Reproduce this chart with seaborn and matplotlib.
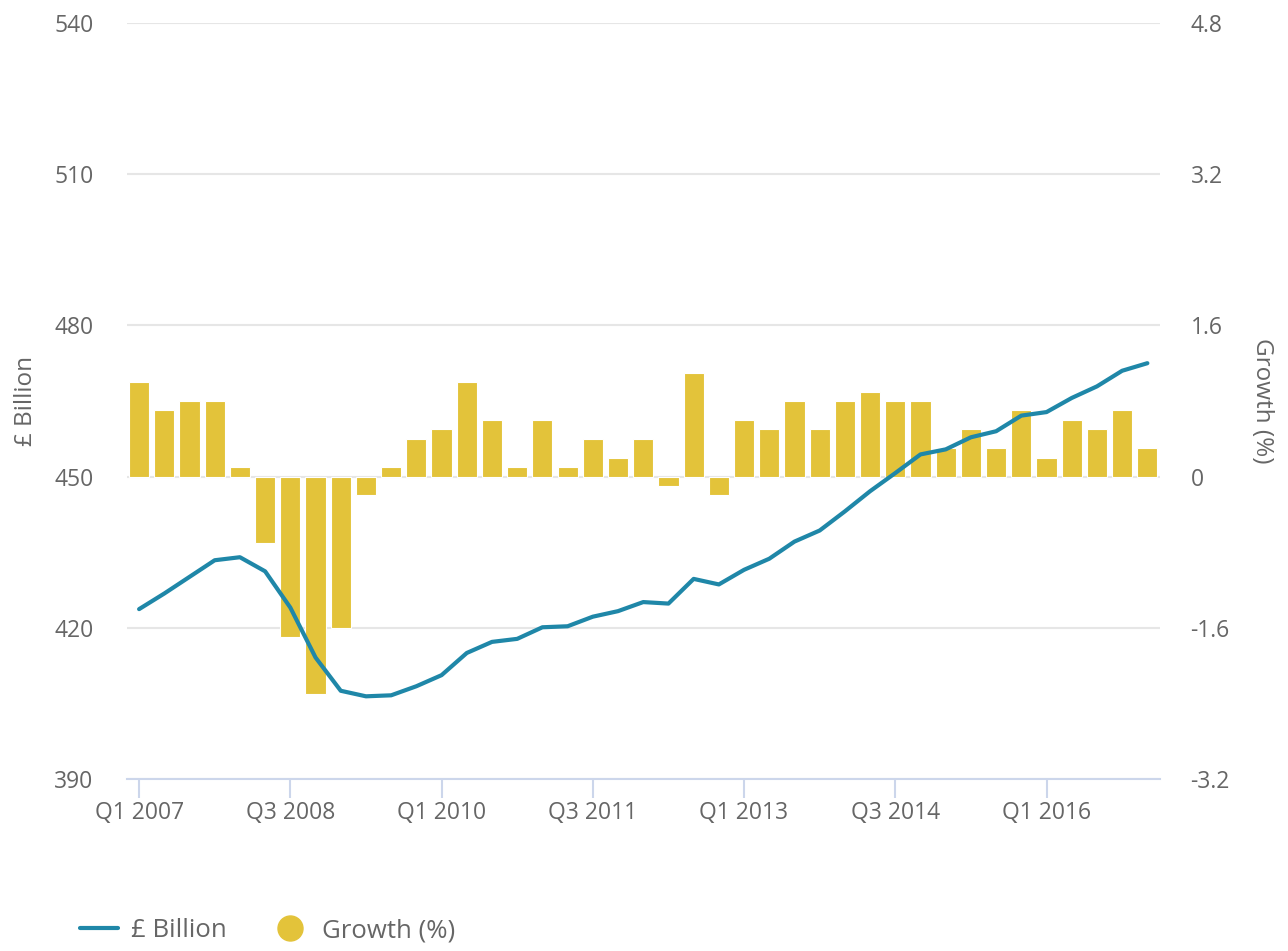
#!/usr/bin/env python3
"""Quarterly value (GBP bn, line) and growth (%, bars), Q1 2007 - Q1 2017."""

import matplotlib

matplotlib.use("Agg")
import matplotlib.pyplot as plt
import numpy as np
import pandas as pd
import seaborn as sns
from matplotlib.lines import Line2D

QUARTERS = [f"Q{q} {y}" for y in range(2007, 2018) for q in range(1, 5)][:41]

BILLION = [
    423.7, 426.8, 430.1, 433.4, 434.0, 431.2, 424.0, 414.1, 407.5, 406.4,
    406.6, 408.4, 410.6, 415.0, 417.2, 417.8, 420.1, 420.3, 422.2, 423.3,
    425.1, 424.8, 429.7, 428.6, 431.5, 433.7, 437.1, 439.3, 443.1, 447.1,
    450.7, 454.4, 455.4, 457.8, 459.0, 462.1, 462.8, 465.6, 467.9, 471.0,
    472.5,
]

GROWTH = [
    1.0, 0.7, 0.8, 0.8, 0.1, -0.7, -1.7, -2.3, -1.6, -0.2,
    0.1, 0.4, 0.5, 1.0, 0.6, 0.1, 0.6, 0.1, 0.4, 0.2,
    0.4, -0.1, 1.1, -0.2, 0.6, 0.5, 0.8, 0.5, 0.8, 0.9,
    0.8, 0.8, 0.3, 0.5, 0.3, 0.7, 0.2, 0.6, 0.5, 0.7,
    0.3,
]

LEFT_TICKS = [390, 420, 450, 480, 510, 540]
RIGHT_TICKS = [-3.2, -1.6, 0, 1.6, 3.2, 4.8]
RIGHT_LABELS = ["-3.2", "-1.6", "0", "1.6", "3.2", "4.8"]

LINE_COLOR = "#1f87a8"
BAR_COLOR = "#e3c33a"
TEXT_COLOR = "#666666"
GRID_COLOR = "#e6e6e6"
AXIS_COLOR = "#ccd6eb"


def main() -> None:
    sns.set_style("white")
    plt.rcParams["font.family"] = ["Open Sans", "DejaVu Sans"]

    df = pd.DataFrame(
        {"pos": np.arange(len(QUARTERS)), "quarter": QUARTERS,
         "billion": BILLION, "growth": GROWTH}
    )

    fig = plt.figure(figsize=(12.88, 9.51), dpi=100)
    ax = fig.add_axes([0.0986, 0.1809, 0.802, 0.7949])
    axr = ax.twinx()
    ax.set_zorder(axr.get_zorder() + 1)
    ax.patch.set_visible(False)

    sns.barplot(
        data=df, x="pos", y="growth", ax=axr, color=BAR_COLOR,
        native_scale=True, width=0.8, saturation=1,
        edgecolor="white", linewidth=0.8, errorbar=None,
    )
    sns.lineplot(
        data=df, x="pos", y="billion", ax=ax, color=LINE_COLOR,
        linewidth=3, solid_capstyle="round",
    )

    ax.set_xlim(-0.48, len(QUARTERS) - 0.5)
    ax.set_ylim(390, 540)
    axr.set_ylim(-3.2, 4.8)

    # grid on the bar axis so the bars sit over it
    axr.set_yticks(RIGHT_TICKS)
    axr.set_yticklabels(RIGHT_LABELS)
    axr.yaxis.grid(True, color=GRID_COLOR, linewidth=1.5)
    axr.set_axisbelow(True)
    ax.yaxis.grid(False)
    ax.set_yticks(LEFT_TICKS)

    tick_pos = list(range(0, len(QUARTERS), 6))
    ax.set_xticks(tick_pos)
    ax.set_xticklabels([QUARTERS[i] for i in tick_pos])

    for a in (ax, axr):
        for side in ("top", "left", "right", "bottom"):
            a.spines[side].set_visible(False)
    ax.spines["bottom"].set_visible(True)
    ax.spines["bottom"].set_color(AXIS_COLOR)
    ax.spines["bottom"].set_linewidth(1.5)

    ax.tick_params(axis="x", bottom=True, colors=AXIS_COLOR, length=14, width=1.5,
                   labelcolor=TEXT_COLOR, labelsize=16.5, pad=2)
    ax.tick_params(axis="y", length=0, labelcolor=TEXT_COLOR, labelsize=16.5, pad=24)
    axr.tick_params(axis="y", length=0, labelcolor=TEXT_COLOR, labelsize=16.5, pad=22)
    axr.tick_params(axis="x", length=0)

    ax.set_xlabel("")
    ax.set_ylabel("£ Billion", color=TEXT_COLOR, fontsize=17.5, labelpad=12)
    axr.set_xlabel("")
    axr.set_ylabel("Growth (%)", color=TEXT_COLOR, fontsize=17.5,
                   rotation=270, labelpad=32)

    handles = [
        Line2D([], [], color=LINE_COLOR, linewidth=3),
        Line2D([], [], color=BAR_COLOR, marker="o", linestyle="none", markersize=18),
    ]
    fig.legend(
        handles, ["£ Billion", "Growth (%)"], loc="lower left",
        bbox_to_anchor=(0.044, -0.016), ncol=2, frameon=False,
        fontsize=18.5, labelcolor=TEXT_COLOR, handlelength=1.5,
        columnspacing=1.7, handletextpad=0.5,
    )

    fig.savefig("out.png", dpi=100)
    plt.close(fig)


if __name__ == "__main__":
    main()
